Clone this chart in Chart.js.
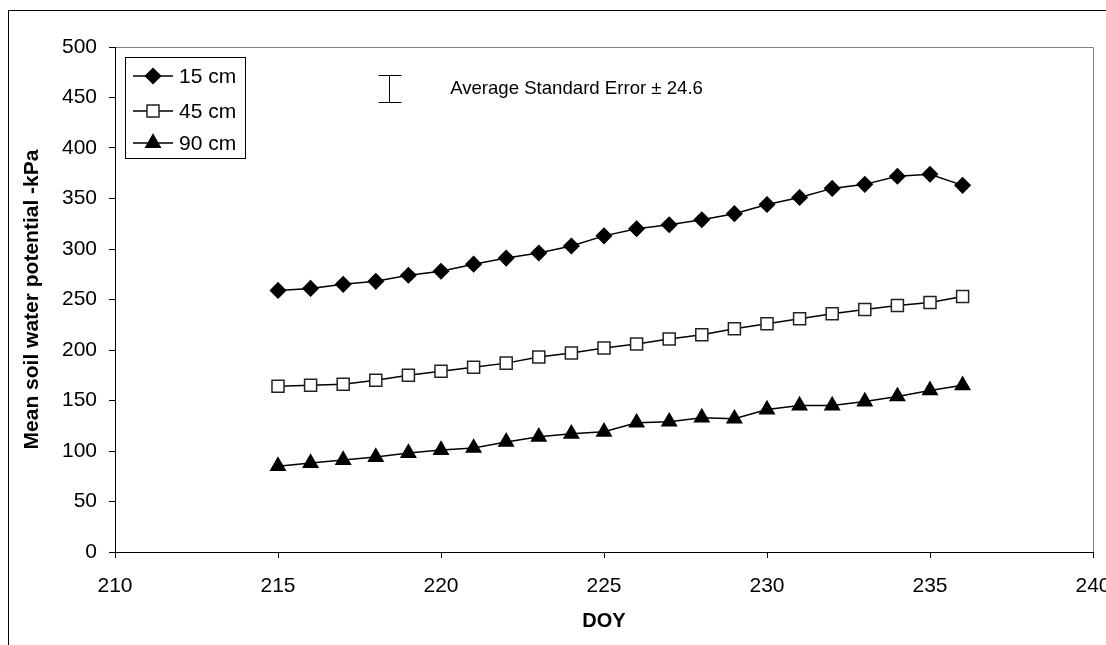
<!DOCTYPE html>
<html><head><meta charset="utf-8">
<script src="https://cdn.jsdelivr.net/npm/chart.js@4/dist/chart.umd.min.js"></script>
<style>html,body{margin:0;padding:0;background:#fff}#wrap{width:1106px;height:645px}</style>
</head><body><div id="wrap"><canvas id="c" width="1106" height="645"></canvas></div>
<script>
const days = [215,216,217,218,219,220,221,222,223,224,225,226,227,228,229,230,231,232,233,234,235,236];
const d15 = [259,261,265,268,274,278,285,291,296,303,313,320,324,329,335,344,351,360,364,372,374,363];
const d45 = [164,165,166,170,175,179,183,187,193,197,202,206,211,215,221,226,231,236,240,244,247,253];
const d90 = [85,88,91,94,98,101,103,109,114,117,119,128,129,133,132,141,145,145,149,154,160,165];
const seriesNames = ['15 cm','45 cm','90 cm'];
const xTicks = [210,215,220,225,230,235,240];
const yTicks = [0,50,100,150,200,250,300,350,400,450,500];
const xTitle = 'DOY';
const yTitle = 'Mean soil water potential -kPa';
const seNote = 'Average Standard Error \u00b1 24.6';
const seBarX = 218.4, seBarLow = 446, seBarHigh = 472, seNoteX = 220.28, seNoteY = 459;

const FONT = "'Liberation Sans', Arial, sans-serif";
const pts = arr => days.map((d,i)=>({x:d,y:arr[i]}));

const styles = [
  {pointStyle:'rectRot', pointRadius:7.5, pointBackgroundColor:'#000', pointBorderColor:'#000'},
  {pointStyle:'rect', pointRadius:8.5, pointBackgroundColor:'#fff', pointBorderColor:'#222'},
  {pointStyle:'triangle', pointRadius:8.3, pointBackgroundColor:'#000', pointBorderColor:'#000'}
];
const datasets = [d15,d45,d90].map((arr,i)=>Object.assign({
  label: seriesNames[i], data: pts(arr), borderColor:'#000', borderWidth:1.5,
  pointBorderWidth:1.5, showLine:true, fill:false, tension:0
}, styles[i]));

const framePlugin = {
  id:'frame',
  beforeDraw(chart){
    const c = chart.ctx, a = chart.chartArea;
    c.save();
    c.fillStyle='#fff'; c.fillRect(0,0,chart.width,chart.height);
    c.strokeStyle='#000'; c.lineWidth=1;
    c.strokeRect(8.5,10.5,chart.width+20,chart.height+20);
    c.strokeStyle='#808080';
    c.beginPath();
    c.moveTo(a.left, a.top+0.5); c.lineTo(a.right+0.5, a.top+0.5); c.lineTo(a.right+0.5, a.bottom);
    c.stroke();
    c.restore();
  },
  afterDraw(chart){
    const c = chart.ctx, xs = chart.scales.x, ys = chart.scales.y;
    c.save();
    const bx = Math.round(xs.getPixelForValue(seBarX))+0.5;
    const yt = Math.round(ys.getPixelForValue(seBarHigh))+0.5;
    const yb = Math.round(ys.getPixelForValue(seBarLow))+0.5;
    c.strokeStyle='#000'; c.lineWidth=1;
    c.beginPath();
    c.moveTo(bx,yt); c.lineTo(bx,yb);
    c.moveTo(bx-11,yt); c.lineTo(bx+12,yt);
    c.moveTo(bx-11,yb); c.lineTo(bx+12,yb);
    c.stroke();
    c.fillStyle='#000'; c.font = '18.6px '+FONT; c.textBaseline='middle'; c.textAlign='left';
    c.fillText(seNote, xs.getPixelForValue(seNoteX), ys.getPixelForValue(seNoteY));
    const lx=125.5, ly=57.5, lw=120, lh=101;
    c.fillStyle='#fff'; c.fillRect(lx,ly,lw,lh);
    c.strokeStyle='#000'; c.strokeRect(lx,ly,lw,lh);
    c.font='21px '+FONT;
    const rows=[76,111,143];
    chart.data.datasets.forEach((ds,i)=>{
      const y=rows[i];
      c.strokeStyle='#000'; c.lineWidth=1.5;
      c.beginPath(); c.moveTo(133,y); c.lineTo(173,y); c.stroke();
      c.fillStyle=ds.pointBackgroundColor; c.strokeStyle=ds.pointBorderColor; c.lineWidth=1.5;
      Chart.helpers.drawPoint(c,{pointStyle:ds.pointStyle, radius:ds.pointRadius, borderWidth:1.5, rotation:0}, 153, y);
      c.fillStyle='#000';
      c.fillText(ds.label, 179, y+1);
    });
    c.restore();
  }
};

new Chart(document.getElementById('c'), {
  type:'scatter',
  data:{datasets},
  options:{
    responsive:false, animation:false, devicePixelRatio:1,
    layout:{padding:{left:0, top:47, right:13, bottom:0}},
    plugins:{legend:{display:false}, tooltip:{enabled:false}},
    scales:{
      x:{
        type:'linear', min:210, max:240,
        afterBuildTicks(s){ s.ticks = xTicks.map(v=>({value:v})); },
        afterFit(s){ s.height = 93; s.paddingLeft=0; s.paddingRight=0; },
        ticks:{color:'#000', font:{family:FONT, size:21}, padding:16, maxRotation:0, autoSkip:false},
        grid:{drawOnChartArea:false, drawTicks:true, tickLength:6, color:'#000'},
        border:{display:true, color:'#000', width:1},
        title:{display:true, text:xTitle, color:'#000', font:{family:FONT, size:20, weight:'bold'}, padding:{top:0,bottom:12}}
      },
      y:{
        type:'linear', min:0, max:500,
        afterBuildTicks(s){ s.ticks = yTicks.map(v=>({value:v})); },
        afterFit(s){ s.width = 115; s.paddingTop=0; s.paddingBottom=0; },
        ticks:{color:'#000', font:{family:FONT, size:21}, padding:12},
        grid:{drawOnChartArea:false, drawTicks:true, tickLength:6, color:'#000'},
        border:{display:true, color:'#000', width:1},
        title:{display:true, text:yTitle, color:'#000', font:{family:FONT, size:21, weight:'bold'}, padding:{top:20,bottom:0}}
      }
    }
  },
  plugins:[framePlugin]
});
</script></body></html>
